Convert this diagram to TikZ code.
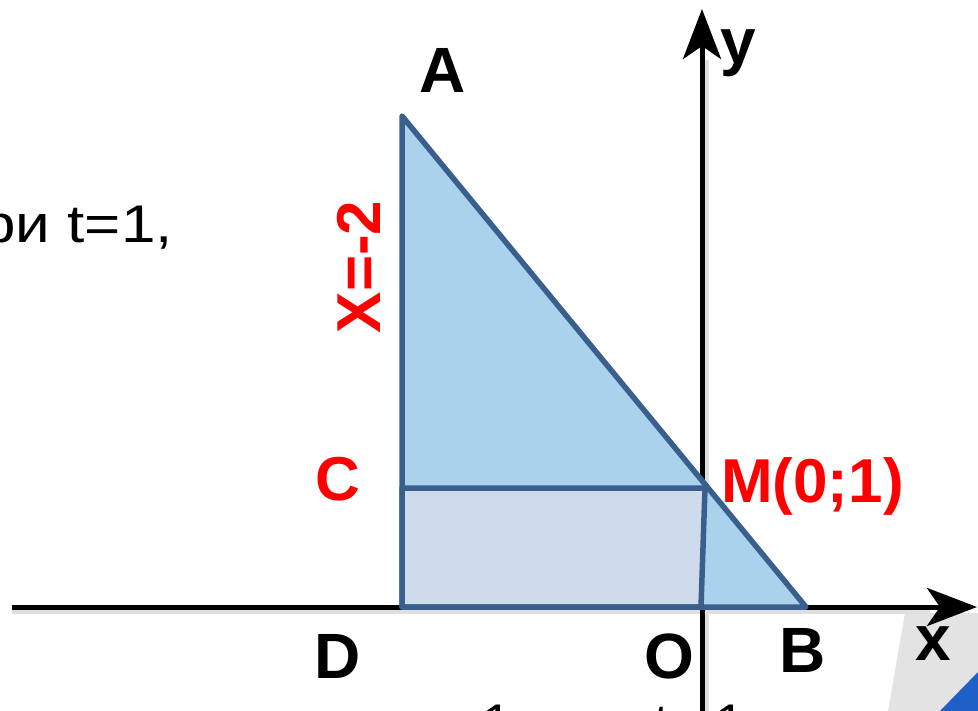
\documentclass[tikz,border=0pt]{standalone}
\usepackage{fontspec}
\setmainfont{Liberation Sans}
\usetikzlibrary{arrows.meta}
\definecolor{edgeblue}{RGB}{58,95,140}
\definecolor{trifill}{RGB}{169,211,236}
\definecolor{rectfill}{RGB}{206,219,234}
\definecolor{lblred}{RGB}{255,0,0}
\definecolor{decoblue}{RGB}{30,95,200}
\tikzset{
  axis/.style={line width=5pt, black, -{Stealth[length=50pt,width=38pt,inset=13pt]}},
  shapeline/.style={line width=5.5pt, edgeblue, line join=round},
  blk/.style={inner sep=0pt, font=\fontsize{64}{70}\selectfont\bfseries, text=black},
  red/.style={inner sep=0pt, font=\fontsize{62}{70}\selectfont\bfseries, text=lblred},
  plain/.style={inner sep=0pt, font=\fontsize{53}{60}\selectfont, text=black}
}
\begin{document}
\begin{tikzpicture}[x=1pt,y=-1pt]
\useasboundingbox (0,0) rectangle (978,711);
\clip (0,0) rectangle (978,711);
% decoration bottom right
\fill[gray!22] (905,613) -- (978,613) -- (978,711) -- (888,711) -- cycle;
\fill[decoblue] (940,711) -- (978,672) -- (978,711) -- cycle;
% axis shadows
\draw[line width=4pt, gray!25] (12,612) -- (930,612);
\draw[line width=4pt, gray!25] (707,711) -- (707,60);
% points
\coordinate (xs) at (12,607);
\coordinate (xe) at (977,607);
\coordinate (ys) at (702,711);
\coordinate (ye) at (702,9);
\coordinate (A) at (402,116);
\coordinate (D) at (402,607);
\coordinate (B) at (806,607);
\coordinate (C) at (402,488);
\coordinate (M) at (705,488);
\coordinate (O) at (701,607);
% axes
\draw[axis] (xs) -- (xe);
\draw[axis] (ys) -- (ye);
% shapes
\fill[trifill] (A) -- (D) -- (B) -- cycle;
\filldraw[shapeline, fill=rectfill] (C) -- (M) -- (O) -- (D) -- cycle;
\draw[shapeline] (A) -- (D) -- (B) -- cycle;
% labels
\node[blk, anchor=base] (lA) at (443,93) {A};
\node[blk, anchor=base] (lD) at (338,678) {D};
\node[blk, anchor=base] (lO) at (669,678) {O};
\node[blk, anchor=base] (lB) at (803,672) {B};
\node[blk, anchor=base] (lx) at (933,660) {x};
\node[blk, anchor=base] (ly) at (738,64) {y};
\node[red, anchor=base] (lC) at (338,500) {C};
\node[red, anchor=base west] (lM) at (721,502) {M(0;1)};
\node[red, rotate=90, anchor=base] (lX) at (380,267) {X=-2};
\node[plain, xscale=1.17, anchor=base east] (t1) at (173,243) {при t=1,};
% cut-off text at bottom
\node[plain, anchor=base] (b1) at (497,741) {1};
\node[plain, anchor=base] (b2) at (662,741) {t};
\node[plain, anchor=base] (b3) at (730,741) {1};
\end{tikzpicture}
\end{document}
